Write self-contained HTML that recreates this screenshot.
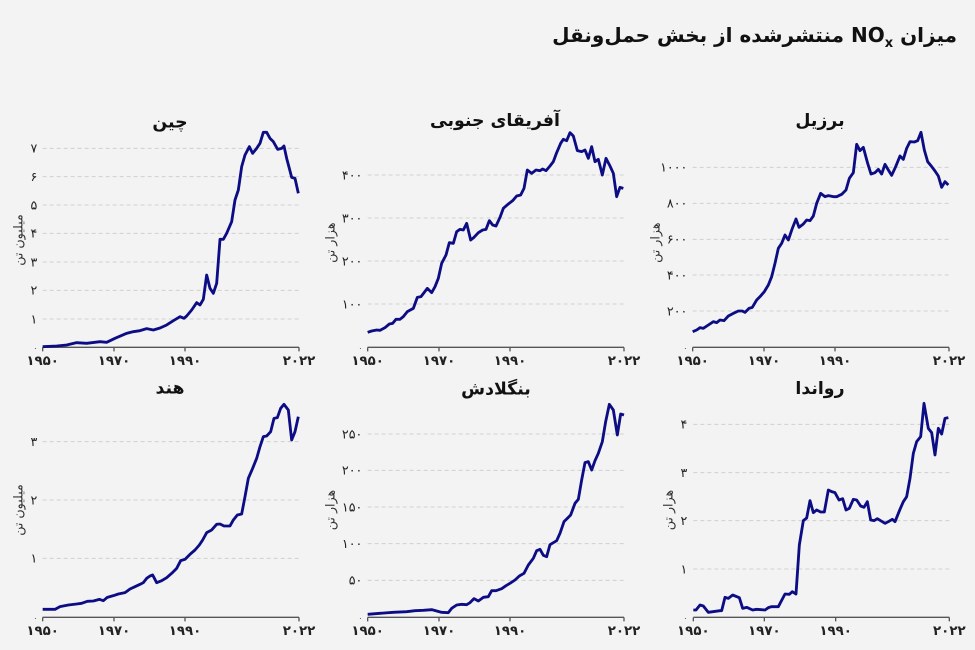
<!DOCTYPE html>
<html><head><meta charset="utf-8">
<style>
html,body{margin:0;padding:0;background:#f3f3f3;}
body{width:975px;height:650px;overflow:hidden;position:relative;font-family:"DejaVu Sans","Liberation Sans",sans-serif;}
#t{position:absolute;right:18px;top:23px;direction:rtl;font-weight:bold;font-size:20px;color:#111;white-space:nowrap;}
#t sub{font-size:13px;}
svg{position:absolute;left:0;top:0;}
.g{stroke:#d0d0d0;stroke-width:3;stroke-dasharray:12 9;fill:none}
.ax{stroke:#555;stroke-width:4;fill:none}
.l{stroke:#0c0c84;stroke-width:8.5;fill:none;stroke-linejoin:round}
.yl{font-size:38px;fill:#222;text-anchor:end;font-family:"DejaVu Sans",sans-serif}
.xl{font-size:40px;font-weight:bold;fill:#222;text-anchor:middle;font-family:"DejaVu Sans",sans-serif}
.tt{font-size:52px;font-weight:bold;fill:#111;text-anchor:middle;font-family:"DejaVu Sans",sans-serif}
.ya{font-size:38px;fill:#333;text-anchor:middle;font-family:"DejaVu Sans",sans-serif}
</style></head><body>
<div id="t">میزان NO<sub>x</sub> منتشرشده از بخش حمل‌ونقل</div>
<svg width="975" height="650" viewBox="0 0 975 650">
<!-- China -->
<g transform="translate(0,100) scale(0.33333)">
<text class="tt" x="510" y="82">چین</text>
<g class="g"><path d="M128 145H897M128 230H897M128 315H897M128 400H897M128 486H897M128 571H897M128 657H897"/></g>
<g class="yl"><text x="112" y="158">۷</text><text x="112" y="243">۶</text><text x="112" y="328">۵</text><text x="112" y="413">۴</text><text x="112" y="499">۳</text><text x="112" y="584">۲</text><text x="112" y="670">۱</text><text x="112" y="752" style="font-size:22px">۰</text></g>
<text class="ya" transform="translate(68,420) rotate(-90)">میلیون تن</text>
<path class="ax" d="M128 742H897M128 742V754M342 742V754M555 742V754M897 742V754"/>
<g class="xl"><text x="128" y="795">۱۹۵۰</text><text x="342" y="795">۱۹۷۰</text><text x="555" y="795">۱۹۹۰</text><text x="897" y="795">۲۰۲۲</text></g>
<polyline class="l" points="128,740 170,738 200,735 230,728 260,730 300,725 320,727 345,715 380,700 400,695 420,692 440,686 460,690 480,684 500,675 520,662 540,650 552,655 560,648 575,630 590,608 600,615 610,598 620,525 630,565 640,580 650,550 660,418 670,418 680,400 695,365 705,300 715,270 725,200 735,165 748,140 758,160 770,145 780,130 790,97 800,97 810,115 820,125 833,148 845,145 852,138 860,175 868,205 875,232 885,235 895,280"/>
</g>
<!-- South Africa -->
<g transform="translate(320,100) scale(0.33333)">
<text class="tt" x="525" y="78">آفریقای جنوبی</text>
<g class="g"><path d="M143 225H912M143 354H912M143 483H912M143 612H912"/></g>
<g class="yl"><text x="127" y="238">۴۰۰</text><text x="127" y="367">۳۰۰</text><text x="127" y="496">۲۰۰</text><text x="127" y="625">۱۰۰</text><text x="127" y="752" style="font-size:22px">۰</text></g>
<text class="ya" transform="translate(44,428) rotate(-90)">هزار تن</text>
<path class="ax" d="M143 742H912M143 742V754M357 742V754M570 742V754M912 742V754"/>
<g class="xl"><text x="143" y="795">۱۹۵۰</text><text x="357" y="795">۱۹۷۰</text><text x="570" y="795">۱۹۹۰</text><text x="912" y="795">۲۰۲۲</text></g>
<polyline class="l" points="143,697 155,693 170,690 180,691 195,683 208,672 218,670 228,658 240,658 250,650 262,635 280,625 292,592 303,590 322,565 335,578 345,560 355,535 365,490 378,465 388,428 400,430 410,395 420,388 430,390 440,370 452,420 462,412 475,398 488,390 498,388 508,362 518,375 528,378 540,352 550,325 565,312 578,302 590,288 602,285 612,265 622,210 635,220 648,210 660,212 668,207 678,212 690,198 700,185 710,158 722,130 730,118 740,122 750,98 760,108 772,152 785,155 795,150 805,175 815,140 825,185 835,178 847,225 858,175 870,198 880,220 890,290 900,262 910,265"/>
</g>
<!-- Brazil -->
<g transform="translate(645,100) scale(0.33333)">
<text class="tt" x="525" y="78">برزیل</text>
<g class="g"><path d="M143 202H912M143 310H912M143 418H912M143 525H912M143 633H912"/></g>
<g class="yl"><text x="127" y="215">۱۰۰۰</text><text x="127" y="323">۸۰۰</text><text x="127" y="431">۶۰۰</text><text x="127" y="538">۴۰۰</text><text x="127" y="646">۲۰۰</text><text x="127" y="752" style="font-size:22px">۰</text></g>
<text class="ya" transform="translate(44,428) rotate(-90)">هزار تن</text>
<path class="ax" d="M143 742H912M143 742V754M357 742V754M570 742V754M912 742V754"/>
<g class="xl"><text x="143" y="795">۱۹۵۰</text><text x="357" y="795">۱۹۷۰</text><text x="570" y="795">۱۹۹۰</text><text x="912" y="795">۲۰۲۲</text></g>
<polyline class="l" points="143,695 155,690 165,683 175,685 190,675 205,665 215,668 225,660 237,662 250,648 265,640 280,633 292,633 300,637 312,625 322,622 335,600 345,590 358,575 370,555 380,530 390,490 400,445 410,430 420,405 430,420 442,385 453,357 462,382 475,372 485,360 495,362 505,348 515,310 527,280 540,290 550,287 565,290 575,290 590,283 603,270 613,235 625,218 635,133 645,152 655,142 668,190 678,222 690,218 700,208 710,222 720,193 730,210 740,226 752,200 765,168 775,178 785,145 795,125 808,126 818,122 828,97 838,150 848,185 858,197 870,213 880,228 890,262 900,245 910,255"/>
</g>
<!-- India -->
<g transform="translate(0,370) scale(0.33333)">
<text class="tt" x="510" y="70">هند</text>
<g class="g"><path d="M128 215H897M128 390H897M128 565H897"/></g>
<g class="yl"><text x="112" y="228">۳</text><text x="112" y="403">۲</text><text x="112" y="578">۱</text><text x="112" y="752" style="font-size:22px">۰</text></g>
<text class="ya" transform="translate(68,420) rotate(-90)">میلیون تن</text>
<path class="ax" d="M128 742H897M128 742V754M342 742V754M555 742V754M897 742V754"/>
<g class="xl"><text x="128" y="795">۱۹۵۰</text><text x="342" y="795">۱۹۷۰</text><text x="555" y="795">۱۹۹۰</text><text x="897" y="795">۲۰۲۲</text></g>
<polyline class="l" points="128,718 150,718 165,718 180,710 205,705 230,702 245,700 262,694 280,693 298,688 310,692 322,682 340,677 355,672 375,668 390,657 405,650 420,643 430,638 440,625 450,618 458,615 470,638 485,632 500,623 515,610 530,595 542,572 555,568 570,553 585,540 598,525 608,510 620,488 635,480 650,463 660,462 672,468 690,468 700,450 712,435 725,432 735,380 745,325 758,295 770,265 780,230 790,200 800,198 812,185 822,145 832,143 842,115 852,103 865,120 875,210 885,185 895,140"/>
</g>
<!-- Bangladesh -->
<g transform="translate(320,370) scale(0.33333)">
<text class="tt" x="528" y="74">بنگلادش</text>
<g class="g"><path d="M143 192H912M143 301H912M143 411H912M143 521H912M143 631H912"/></g>
<g class="yl"><text x="127" y="205">۲۵۰</text><text x="127" y="314">۲۰۰</text><text x="127" y="424">۱۵۰</text><text x="127" y="534">۱۰۰</text><text x="127" y="644">۵۰</text><text x="127" y="752" style="font-size:22px">۰</text></g>
<text class="ya" transform="translate(44,420) rotate(-90)">هزار تن</text>
<path class="ax" d="M143 742H912M143 742V754M357 742V754M570 742V754M912 742V754"/>
<g class="xl"><text x="143" y="795">۱۹۵۰</text><text x="357" y="795">۱۹۷۰</text><text x="570" y="795">۱۹۹۰</text><text x="912" y="795">۲۰۲۲</text></g>
<polyline class="l" points="143,733 180,730 220,727 260,725 285,722 310,721 335,719 350,723 365,727 385,728 395,715 410,705 425,703 440,704 450,698 462,686 475,693 490,682 505,680 515,662 528,662 545,656 558,647 570,640 585,630 598,618 612,610 625,585 640,565 650,542 660,538 670,556 680,560 690,524 700,518 710,512 720,490 732,455 742,445 752,435 765,400 775,388 785,330 795,278 805,275 815,300 825,272 835,250 847,215 857,155 868,103 880,120 892,195 902,132 912,135"/>
</g>
<!-- Rwanda -->
<g transform="translate(640,370) scale(0.33333)">
<text class="tt" x="540" y="72">رواندا</text>
<g class="g"><path d="M160 163H928M160 308H928M160 452H928M160 597H928"/></g>
<g class="yl"><text x="142" y="176">۴</text><text x="142" y="321">۳</text><text x="142" y="465">۲</text><text x="142" y="610">۱</text><text x="142" y="752" style="font-size:22px">۰</text></g>
<text class="ya" transform="translate(98,420) rotate(-90)">هزار تن</text>
<path class="ax" d="M160 742H928M160 742V754M373 742V754M587 742V754M928 742V754"/>
<g class="xl"><text x="160" y="795">۱۹۵۰</text><text x="373" y="795">۱۹۷۰</text><text x="587" y="795">۱۹۹۰</text><text x="928" y="795">۲۰۲۲</text></g>
<polyline class="l" points="160,720 168,720 180,705 190,708 205,727 240,722 245,722 255,682 265,685 278,675 298,683 308,715 320,712 338,720 350,718 375,720 385,713 395,710 415,710 435,672 448,673 457,665 468,672 478,525 490,452 500,444 510,392 520,428 530,420 542,426 553,426 565,360 575,365 585,368 597,390 608,386 618,420 628,415 640,388 650,390 662,408 672,412 682,395 692,450 702,452 712,446 722,452 735,460 745,455 757,448 765,455 780,418 790,395 800,380 810,325 820,250 830,215 842,200 852,100 865,175 875,188 885,255 895,175 905,192 915,145 925,143"/>
</g>
</svg>
</body></html>
